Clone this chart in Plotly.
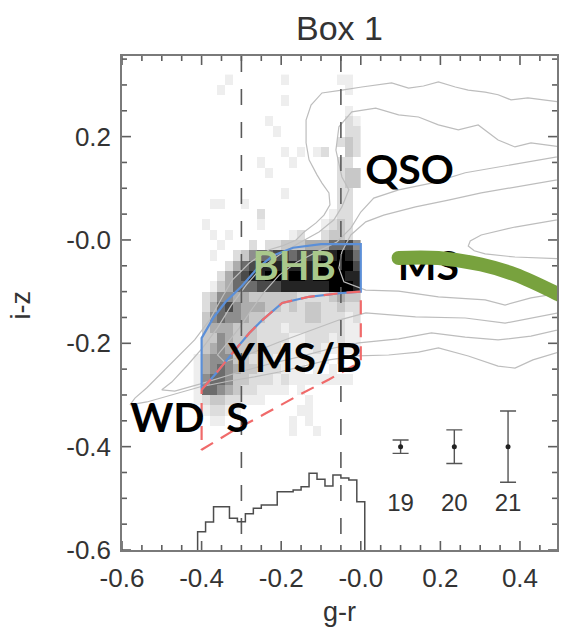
import plotly.graph_objects as go

# ---------------- axes ----------------
X_RANGE = [-0.6, 0.493]
Y_RANGE = [-0.6, 0.356]
tick_alias = {"\u22120.6": "-0.6", "\u22120.4": "-0.4", "\u22120.2": "-0.2",
              "-0.6": "-0.6", "-0.4": "-0.4", "-0.2": "-0.2",
              "0.0": "-0.0", "0": "-0.0", "\u22120.0": "-0.0"}
x_major_ticks = [-0.6, -0.4, -0.2, 0.0, 0.2, 0.4]
y_major_ticks = [-0.6, -0.4, -0.2, 0.0, 0.2]
x_minor_ticks = [-0.55, -0.5, -0.45, -0.35, -0.3, -0.25, -0.15, -0.1, -0.05,
                 0.05, 0.1, 0.15, 0.25, 0.3, 0.35, 0.45]
y_minor_ticks = [-0.55, -0.5, -0.45, -0.35, -0.3, -0.25, -0.15, -0.1, -0.05,
                 0.05, 0.1, 0.15, 0.25, 0.3, 0.35]

# ---------------- Hess diagram (grey 2D histogram, 0 = empty .. 9 = black) ----------------
hess_x = [-0.41, -0.39, -0.37, -0.35, -0.33, -0.31, -0.29, -0.27, -0.25, -0.23, -0.21,
          -0.19, -0.17, -0.15, -0.13, -0.11, -0.09, -0.07, -0.05, -0.03, -0.01]
hess_y = [0.31, 0.29, 0.27, 0.25, 0.23, 0.21, 0.19, 0.17, 0.15, 0.13, 0.11, 0.09,
          0.07, 0.05, 0.03, 0.01, -0.01, -0.03, -0.05, -0.07, -0.09, -0.11, -0.13,
          -0.15, -0.17, -0.19, -0.21, -0.23, -0.25, -0.27, -0.29, -0.31, -0.33,
          -0.35, -0.37, -0.39]
hess_rows = [
    "000010000001000000110",
    "000100000000000000010",
    "000000000001000000000",
    "000000000000000000010",
    "000000000100000000021",
    "000000000010000000022",
    "000000000000000000232",
    "000000000001010120032",
    "000000001000100000220",
    "000000000100000000233",
    "000000000000000000233",
    "000000000001000000220",
    "001100100000000000220",
    "000000002000000001220",
    "010000001000000012320",
    "001010000000120023320",
    "000100020223334446675",
    "001002356677677788986",
    "000024678888888999997",
    "000246788998998999988",
    "001346667778888889998",
    "023554433333322223433",
    "024675444332323322322",
    "035655433222223322212",
    "034443332221222222211",
    "033543332222112221211",
    "034543332221111211111",
    "145553322211111110100",
    "145654332221110101000",
    "156653322212111111110",
    "166543221111010000000",
    "123322111000001000000",
    "012211000000011000000",
    "001100000000101000000",
    "000000000000100100000",
    "000000000000000000000",
]
hess_grey_levels = ["#ffffff", "#eeeeee", "#dddddd", "#c8c8c8", "#adadad",
                    "#8e8e8e", "#6c6c6c", "#4a4a4a", "#242424", "#000000"]

# ---------------- density contours of all point sources ----------------
contour_1 = [(0.52, 0.265), (0.4575, 0.271), (0.42, 0.275), (0.3775, 0.271), (0.345, 0.281),
             (0.3125, 0.286), (0.27, 0.290), (0.2375, 0.296), (0.195, 0.306), (0.1575, 0.298),
             (0.12, 0.294), (0.0775, 0.304), (0.0325, 0.300), (0.0025, 0.296), (-0.0475, 0.290),
             (-0.0975, 0.2845), (-0.125, 0.261), (-0.1375, 0.232), (-0.1375, 0.188), (-0.13, 0.155),
             (-0.11, 0.126), (-0.0975, 0.110), (-0.08, 0.091), (-0.0775, 0.068), (-0.0925, 0.048),
             (-0.1125, 0.033), (-0.1425, 0.0155), (-0.1625, 0.0), (-0.1975, -0.0116), (-0.23, -0.019),
             (-0.28, -0.0445), (-0.3225, -0.077), (-0.3475, -0.110), (-0.38, -0.155), (-0.4175, -0.1935),
             (-0.4675, -0.232), (-0.505, -0.261), (-0.5375, -0.286), (-0.5675, -0.306), (-0.58, -0.319),
             (-0.5375, -0.3135), (-0.4675, -0.298), (-0.405, -0.2845), (-0.33, -0.273), (-0.2675, -0.265),
             (-0.205, -0.2555), (-0.1425, -0.244), (-0.08, -0.232), (-0.01, -0.2245), (0.07, -0.2226),
             (0.145, -0.217), (0.195, -0.209), (0.27, -0.2245), (0.345, -0.244), (0.3875, -0.248),
             (0.4325, -0.232), (0.4975, -0.217), (0.52, -0.213)]
contour_2 = [(0.52, 0.178), (0.4275, 0.188), (0.3875, 0.18), (0.345, 0.1935), (0.295, 0.2226),
             (0.245, 0.213), (0.195, 0.2226), (0.145, 0.238), (0.095, 0.242), (0.0375, 0.255),
             (-0.0225, 0.248), (-0.055, 0.219), (-0.0625, 0.174), (-0.0475, 0.122), (-0.03, 0.097),
             (-0.0475, 0.064), (-0.0675, 0.039), (-0.105, 0.0155), (-0.155, -0.006), (-0.205, -0.029),
             (-0.25, -0.054), (-0.2875, -0.087), (-0.325, -0.126), (-0.36, -0.170), (-0.3975, -0.209),
             (-0.435, -0.242), (-0.475, -0.275), (-0.50, -0.290), (-0.4675, -0.2925), (-0.405, -0.279),
             (-0.305, -0.2555), (-0.23, -0.240), (-0.155, -0.2264), (-0.08, -0.211), (-0.005, -0.199),
             (0.095, -0.1915), (0.1775, -0.180), (0.2625, -0.188), (0.345, -0.1935), (0.4275, -0.186),
             (0.52, -0.170)]
contour_3 = [(0.52, 0.1645), (0.42, 0.151), (0.345, 0.141), (0.2625, 0.130), (0.1775, 0.110),
             (0.095, 0.097), (0.0325, 0.081), (0.0, 0.054), (-0.025, 0.023), (-0.06, -0.004),
             (-0.11, -0.023), (-0.16, -0.0426), (-0.205, -0.068), (-0.2425, -0.1006), (-0.275, -0.1355),
             (-0.305, -0.170), (-0.335, -0.199), (-0.36, -0.2226), (-0.3425, -0.236), (-0.28, -0.2206),
             (-0.205, -0.1974), (-0.13, -0.176), (-0.055, -0.155), (0.0125, -0.141), (0.1375, -0.149),
             (0.2625, -0.151), (0.3625, -0.161), (0.4975, -0.141), (0.52, -0.139)]
contour_4 = [(0.52, 0.12), (0.3875, 0.1026), (0.3025, 0.091), (0.22, 0.077), (0.1375, 0.064),
             (0.0575, 0.048), (0.0125, 0.035), (-0.025, 0.0097), (-0.0475, -0.023), (-0.055, -0.054),
             (-0.0425, -0.081), (0.0125, -0.097), (0.095, -0.099), (0.195, -0.110), (0.3125, -0.116),
             (0.3625, -0.126), (0.4275, -0.112), (0.52, -0.1006)]
contour_5 = [(0.52, 0.0426), (0.3875, 0.025), (0.3025, 0.0097), (0.275, -0.002), (0.27, -0.0116),
             (0.285, -0.021), (0.3125, -0.027), (0.3875, -0.033), (0.52, -0.037)]
contours = [contour_1, contour_2, contour_3, contour_4, contour_5]

# ---------------- vertical reference lines ----------------
vline_x = [-0.3, -0.05]

# ---------------- BHB selection box (blue) ----------------
bhb_box = [(-0.40, -0.29), (-0.40, -0.19), (-0.37, -0.15), (-0.34, -0.12), (-0.30, -0.09),
           (-0.26, -0.055), (-0.22, -0.03), (-0.17, -0.015), (-0.10, -0.008), (0.0, -0.008),
           (0.0, -0.10), (-0.0475, -0.1026), (-0.13, -0.11), (-0.1975, -0.122), (-0.2475, -0.155),
           (-0.28, -0.18), (-0.3225, -0.219), (-0.3625, -0.257), (-0.40, -0.29)]
# ---------------- YMS/BS selection region (red dashed) ----------------
bs_box = [(-0.40, -0.29), (-0.3625, -0.257), (-0.3225, -0.219), (-0.28, -0.18), (-0.2475, -0.155),
          (-0.1975, -0.122), (-0.13, -0.11), (-0.0475, -0.1026), (0.0, -0.10), (0.0, -0.2355),
          (-0.08, -0.27), (-0.155, -0.30), (-0.2375, -0.335), (-0.3225, -0.370), (-0.40, -0.406),
          (-0.40, -0.29)]

# ---------------- g-r histogram (step outline) ----------------
hist_edges = [-0.41, -0.39, -0.37, -0.35, -0.33, -0.31, -0.29, -0.27, -0.25, -0.23, -0.21,
              -0.19, -0.17, -0.15, -0.13, -0.11, -0.09, -0.07, -0.05, -0.03, -0.01, 0.01]
hist_top = [-0.5645, -0.5457, -0.5161, -0.5161, -0.5387, -0.5452, -0.530, -0.5193, -0.5129,
            -0.5129, -0.4871, -0.4871, -0.4839, -0.4774, -0.4516, -0.463, -0.476, -0.455,
            -0.4606, -0.4645, -0.5065]
hist_base = -0.6

# ---------------- typical errors at r = 19, 20, 21 ----------------
err_x = [0.10, 0.235, 0.37]
err_y = [-0.40, -0.40, -0.40]
err_size = [0.013, 0.0325, 0.069]
err_labels = ["19", "20", "21"]
err_label_y = -0.513

# ---------------- overlay labels ----------------
label_text = ["QSO", "MS", "YMS/B", "S", "WD"]
label_x = [0.1225, 0.17, -0.165, -0.31, -0.486]
label_y = [0.128, -0.058, -0.236, -0.352, -0.352]
bhb_label = ("BHB", -0.1675, -0.059)
arrow_path = [(0.095, -0.0348), (0.195, -0.035), (0.3025, -0.0475), (0.3875, -0.0669),
              (0.4975, -0.1056), (0.545, -0.125)]

GREY_TEXT = "#333333"
FONT = "Liberation Sans, Arial, sans-serif"
TICK_COLOR = "#5e5e5e"
PLOT_W, PLOT_H = 437, 494
MARGIN = dict(l=122, r=2, t=56, b=84, pad=0)

fig = go.Figure()

# Hess diagram
z = []
for row in hess_rows:
    row = (row + "0" * 21)[:21]
    z.append([int(c) if c != "0" else None for c in row])
grey_scale = [[i / 9, col] for i, col in enumerate(hess_grey_levels)]
fig.add_trace(go.Heatmap(x=hess_x, y=hess_y, z=z, zmin=0, zmax=9, colorscale=grey_scale,
                         showscale=False, hoverinfo="skip", xgap=0, ygap=0))

# inward tick marks on all four sides (length given in screen pixels)
dx_per_px = (X_RANGE[1] - X_RANGE[0]) / PLOT_W
dy_per_px = (Y_RANGE[1] - Y_RANGE[0]) / PLOT_H
tx, ty = [], []
for ticks_list, length in ((x_major_ticks, 9), (x_minor_ticks, 5)):
    for t in ticks_list:
        tx += [t, t, None, t, t, None]
        ty += [Y_RANGE[0], Y_RANGE[0] + length * dy_per_px, None,
               Y_RANGE[1], Y_RANGE[1] - length * dy_per_px, None]
for ticks_list, length in ((y_major_ticks, 9), (y_minor_ticks, 5)):
    for t in ticks_list:
        ty += [t, t, None, t, t, None]
        tx += [X_RANGE[0], X_RANGE[0] + length * dx_per_px, None,
               X_RANGE[1], X_RANGE[1] - length * dx_per_px, None]
fig.add_trace(go.Scatter(x=tx, y=ty, mode="lines", line=dict(color=TICK_COLOR, width=1.6),
                         hoverinfo="skip", connectgaps=False))

# contours
for c in contours:
    fig.add_trace(go.Scatter(x=[p[0] for p in c], y=[p[1] for p in c], mode="lines",
                             line=dict(color="#bdbdbd", width=1.2), hoverinfo="skip"))

# vertical dashed lines
for vx in vline_x:
    fig.add_trace(go.Scatter(x=[vx, vx], y=[Y_RANGE[1], Y_RANGE[0]], mode="lines",
                             line=dict(color="#5a5a5a", width=1.6, dash="16px,17px"),
                             hoverinfo="skip"))

# histogram outline
hx = [hist_edges[0]]
hy = [hist_base]
for i, h in enumerate(hist_top):
    hx += [hist_edges[i], hist_edges[i + 1]]
    hy += [h, h]
hx.append(hist_edges[-1])
hy.append(hist_base)
fig.add_trace(go.Scatter(x=hx, y=hy, mode="lines", line=dict(color="#4d4d4d", width=1.5),
                         hoverinfo="skip"))

# blue box then red dashed region
fig.add_trace(go.Scatter(x=[p[0] for p in bhb_box], y=[p[1] for p in bhb_box], mode="lines",
                         line=dict(color="#5b8fd8", width=2.2), hoverinfo="skip"))
fig.add_trace(go.Scatter(x=[p[0] for p in bs_box], y=[p[1] for p in bs_box], mode="lines",
                         line=dict(color="#f06a6a", width=2.2, dash="14px,9px"), hoverinfo="skip"))

# error bars
fig.add_trace(go.Scatter(x=err_x, y=err_y, mode="markers",
                         marker=dict(color="#222222", size=5),
                         error_y=dict(type="data", array=err_size, visible=True,
                                      color="#555555", thickness=1.4, width=8),
                         hoverinfo="skip"))
fig.add_trace(go.Scatter(x=err_x, y=[err_label_y] * 3, mode="text", text=err_labels,
                         textfont=dict(family=FONT, size=24, color=GREY_TEXT),
                         hoverinfo="skip"))

# overlay labels
fig.add_trace(go.Scatter(x=label_x, y=label_y, mode="text", text=label_text,
                         textposition="middle center",
                         textfont=dict(family="Lato, sans-serif", size=41, color="#000000",
                                       weight="bold"),
                         hoverinfo="skip"))
fig.add_trace(go.Scatter(x=[bhb_label[1]], y=[bhb_label[2]], mode="text", text=[bhb_label[0]],
                         textposition="middle center",
                         textfont=dict(family="Lato, sans-serif", size=40, color="#a9c88b",
                                       weight="bold"),
                         hoverinfo="skip"))

# green arrow arc (drawn over the MS label)
fig.add_trace(go.Scatter(x=[p[0] for p in arrow_path], y=[p[1] for p in arrow_path],
                         mode="lines", line=dict(color="#78a23e", width=14, shape="spline"),
                         hoverinfo="skip"))
fig.add_trace(go.Scatter(x=[arrow_path[0][0]], y=[arrow_path[0][1]], mode="markers",
                         marker=dict(color="#78a23e", size=14), hoverinfo="skip"))

axis_common = dict(showgrid=False, zeroline=False, showline=True, linecolor="#7a7a7a",
                   linewidth=1.5, mirror=True, ticks="", tickmode="linear", tick0=0, dtick=0.2,
                   tickformat=".1f", labelalias=tick_alias,
                   tickfont=dict(family=FONT, size=26, color=GREY_TEXT),
                   ticklabelstandoff=4)

fig.update_xaxes(range=X_RANGE, **axis_common)
fig.update_yaxes(range=Y_RANGE, **axis_common)

fig.update_layout(
    width=561, height=634, autosize=False,
    margin=MARGIN,
    plot_bgcolor="white", paper_bgcolor="white", showlegend=False,
    title=dict(text="Box 1", x=0.5, xref="paper", y=1 - 28 / 634, yref="container",
               xanchor="center", yanchor="middle",
               font=dict(family=FONT, size=34, color=GREY_TEXT)),
    annotations=[
        dict(text="g-r", xref="paper", yref="paper", x=0.5, y=-(612 - 550) / 494,
             xanchor="center", yanchor="middle", showarrow=False,
             font=dict(family=FONT, size=27, color=GREY_TEXT)),
        dict(text="i-z", xref="paper", yref="paper", x=(21 - 122) / 437, y=(550 - 305) / 494,
             xanchor="center", yanchor="middle", showarrow=False, textangle=-90,
             font=dict(family=FONT, size=27, color=GREY_TEXT)),
    ],
)

fig.write_html("out.html")
